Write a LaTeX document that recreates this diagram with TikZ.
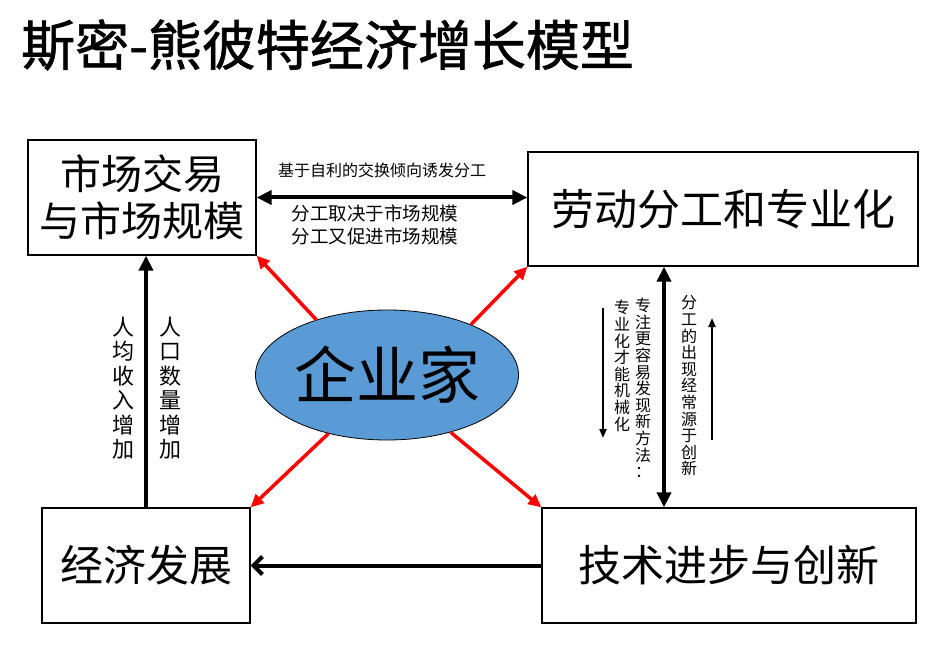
\documentclass[tikz,border=0pt]{standalone}
\usepackage{fontspec}
\setmainfont{Noto Sans CJK SC}
\newfontfamily\tfont[FakeBold=1.2]{Noto Sans CJK SC}
\usetikzlibrary{arrows.meta,shapes.geometric}
\definecolor{ent}{HTML}{5B9BD5}
\definecolor{rd}{HTML}{FF0000}
\tikzset{box/.style={draw=black,line width=1.3pt,rectangle,inner sep=0pt,align=center,font=\fontsize{43}{47}\selectfont},
  big/.style={line width=4pt,-{Triangle[length=15pt,width=14pt]}},
  rarr/.style={rd,line width=3.5pt,-{Triangle[length=13pt,width=12pt]}},
  thin/.style={line width=2pt,-{Triangle[length=9pt,width=7pt]}},
  lbl/.style={inner sep=0pt,align=center,font=\fontsize{16}{16.6}\selectfont}}

\begin{document}
\begin{tikzpicture}[x=1pt,y=-1pt]
    \useasboundingbox (0,0) rectangle (941,660);
    \node[anchor=west,inner sep=0pt,font=\fontsize{54}{60}\tfont] (title) at (21,45) {斯密-熊彼特经济增长模型};

    \node[box,minimum width=228pt,minimum height=115pt,font=\fontsize{41}{47}\selectfont] (mkt) at (142,197.5) {市场交易\\与市场规模};
    \node[box,minimum width=390pt,minimum height=114pt] (div) at (723,209) {劳动分工和专业化};
    \node[box,minimum width=208pt,minimum height=115pt] (dev) at (146,565.5) {经济发展};
    \node[box,minimum width=374pt,minimum height=115pt] (tech) at (729,565.5) {技术进步与创新};
    \node[ellipse,draw=black,line width=0.8pt,fill=ent,minimum width=226pt,minimum height=130pt,inner sep=0pt,font=\fontsize{62}{62}\selectfont] (ent) at (387,375) {企业家};

    \draw[rarr] (ent.142) -- (mkt.south east);
    \draw[rarr] (ent.31) -- (div.south west);
    \draw[rarr] (ent.225) -- (dev.north east);
    \draw[rarr] (ent.-42) -- (tech.north west);

    \draw[big,{Triangle[length=15pt,width=14pt]}-{Triangle[length=15pt,width=14pt]}] (mkt.east) -- (mkt.east -| div.west);
    \draw[big,{Triangle[length=15pt,width=14pt]}-{Triangle[length=15pt,width=14pt]}] ([xshift=-59pt]div.south) -- ([xshift=-65pt]tech.north);
    \draw[big] (dev.north) -- (dev.north |- mkt.south);
    \draw[line width=4pt,-{Straight Barb[length=9pt,width=18pt,line width=4pt]}] (tech.west) -- (dev.east);

    \node[lbl] (t1) at (382,170) {基于自利的交换倾向诱发分工};
    \node[lbl,font=\fontsize{18.5}{23}\selectfont] (t2) at (375,225) {分工取决于市场规模\\分工又促进市场规模};

    \node[lbl] (v1) at (622,366) {专\\业\\化\\才\\能\\机\\械\\化};
    \node[lbl] (v2) at (643,388) {专\\注\\更\\容\\易\\发\\现\\新\\方\\法\\：};
    \node[lbl] (v3) at (689,386) {分\\工\\的\\出\\现\\经\\常\\源\\于\\创\\新};
    \node[lbl,font=\fontsize{22}{24.5}\selectfont] (v4) at (123,388) {人\\均\\收\\入\\增\\加};
    \node[lbl,font=\fontsize{22}{24.5}\selectfont] (v5) at (170,388) {人\\口\\数\\量\\增\\加};

    \coordinate (d1) at (603,308);
    \coordinate (d2) at (603,438);
    \coordinate (u1) at (712,440);
    \coordinate (u2) at (712,318);
    \draw[thin] (d1) -- (d2);
    \draw[thin] (u1) -- (u2);
\end{tikzpicture}
\end{document}
